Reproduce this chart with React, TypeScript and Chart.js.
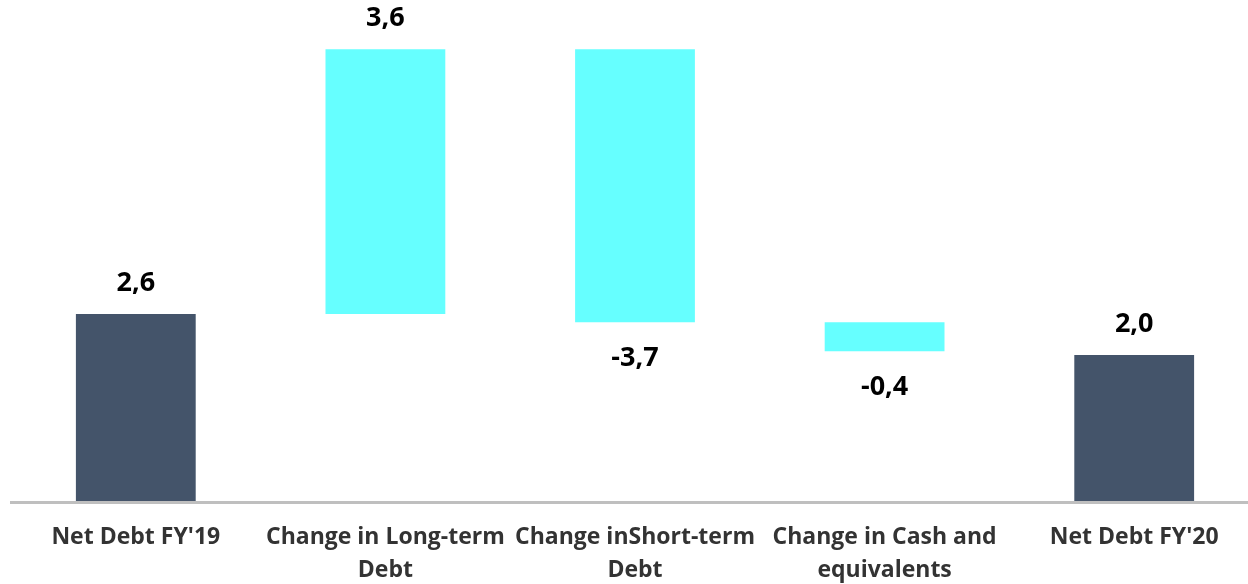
import React, { useEffect, useRef } from "react";
import { Chart, registerables } from "chart.js";

Chart.register(...registerables);

const categories: (string | string[])[] = [
  "Net Debt FY'19",
  ["Change in Long-term", "Debt"],
  ["Change inShort-term", "Debt"],
  ["Change in Cash and", "equivalents"],
  "Net Debt FY'20",
];
const values: number[] = [2.56, 3.63, -3.74, -0.4, 2.0];
const isTotal: boolean[] = [true, false, false, false, true];
const totalColor = "#44546A";
const deltaColor = "#66FFFF";

function buildRanges(): [number, number][] {
  let running = 0;
  const out: [number, number][] = [];
  values.forEach((v, i) => {
    if (isTotal[i]) {
      out.push([0, v]);
      running = v;
    } else {
      out.push([running, running + v]);
      running += v;
    }
  });
  return out;
}

const fmt = (v: number) => v.toFixed(1).replace(".", ",");

export default function App() {
  const ref = useRef<HTMLCanvasElement | null>(null);
  useEffect(() => {
    document.body.style.margin = "0";
    document.body.style.overflow = "hidden";
    const canvas = ref.current!;
    const labelPlugin = {
      id: "wfLabels",
      afterDatasetsDraw(chart: any) {
        const ctx = chart.ctx;
        const area = chart.chartArea;
        ctx.save();
        ctx.fillStyle = "#BFBFBF";
        ctx.fillRect(10, area.bottom, chart.width, 3);
        const meta = chart.getDatasetMeta(0);
        ctx.font = "bold 27px 'Open Sans'";
        ctx.fillStyle = "#000000";
        ctx.textAlign = "center";
        ctx.textBaseline = "alphabetic";
        meta.data.forEach((el: any, i: number) => {
          const v = values[i];
          const top = Math.min(el.y, el.base);
          const bottom = Math.max(el.y, el.base);
          if (v >= 0) {
            ctx.fillText(fmt(v), el.x, top - 23);
          } else {
            ctx.fillText(fmt(v), el.x, bottom + 44);
          }
        });
        ctx.restore();
      },
    };
    const chart = new Chart(canvas, {
      type: "bar",
      data: {
        labels: categories,
        datasets: [
          {
            data: buildRanges() as any,
            backgroundColor: values.map((_, i) => (isTotal[i] ? totalColor : deltaColor)),
            borderWidth: 0,
            barPercentage: 0.48,
            categoryPercentage: 1,
          },
        ],
      },
      options: {
        animation: false,
        responsive: false,
        devicePixelRatio: 1,
        layout: { padding: { left: 11, right: 1, top: 0, bottom: 0 } },
        plugins: { legend: { display: false }, tooltip: { enabled: false } },
        scales: {
          x: {
            grid: { display: false, drawTicks: false },
            border: { display: false },
            ticks: {
              autoSkip: false,
              maxRotation: 0,
              padding: 20,
              color: "#333333",
              font: { family: "'Open Sans'", weight: "bold", size: 23, lineHeight: "33px" },
            },
            afterFit: (s: any) => {
              s.height = 83;
            },
          },
          y: { display: false, min: 0, max: 501 / 73 },
        },
      },
      plugins: [labelPlugin],
    });
    return () => chart.destroy();
  }, []);
  return (
    <div style={{ position: "fixed", left: 0, top: 0, width: 1260, height: 584 }}>
      <canvas ref={ref} width={1260} height={584} style={{ display: "block" }} />
    </div>
  );
}
